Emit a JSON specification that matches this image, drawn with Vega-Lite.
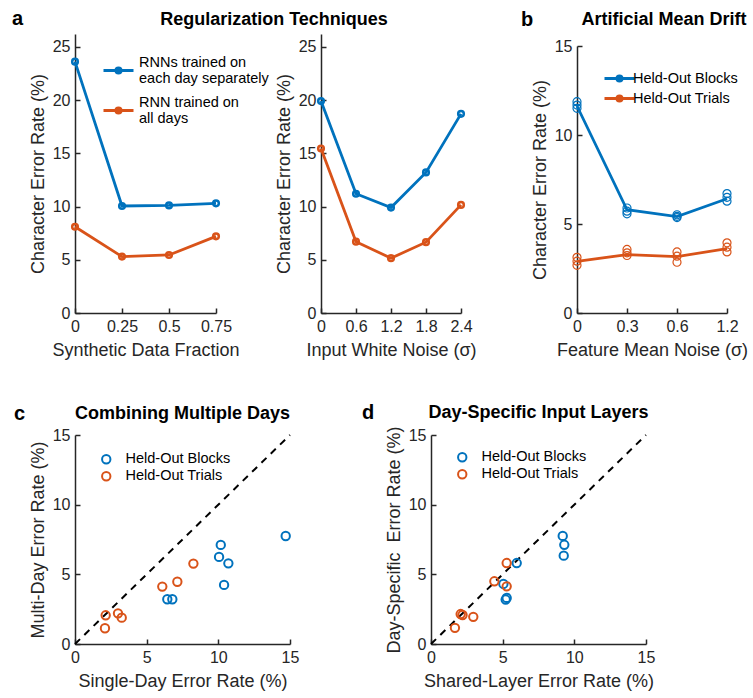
{
  "$schema": "https://vega.github.io/schema/vega-lite/v6.json",
  "padding": {"left": 12, "top": 9, "right": 5, "bottom": 5},
  "config": {
    "font": "Liberation Sans",
    "view": {"stroke": null},
    "axis": {
      "grid": false,
      "domainColor": "#262626", "domainWidth": 1.5,
      "tickColor": "#262626", "tickWidth": 1.5, "tickSize": -5,
      "labelPadding": 10, "labelFontSize": 16, "labelColor": "#262626", "labelFlush": false,
      "labelFont": "Liberation Sans", "titleFont": "Liberation Sans",
      "titleFontSize": 18, "titleFontWeight": "normal", "titleColor": "#262626", "titlePadding": 5
    },
    "axisX": {"titlePadding": 7},
    "title": {"fontSize": 18, "fontWeight": "bold", "color": "#000000", "frame": "group", "offset": 5, "font": "Liberation Sans"},
    "legend": {"labelFontSize": 14.5, "labelColor": "#000000", "padding": 0, "labelFont": "Liberation Sans"}
  },
  "datasets": {
    "a1": [
      {"frac": 0, "cer": 23.6, "model": "RNNs trained on each day separately"},
      {"frac": 0.25, "cer": 10.05, "model": "RNNs trained on each day separately"},
      {"frac": 0.5, "cer": 10.1, "model": "RNNs trained on each day separately"},
      {"frac": 0.75, "cer": 10.3, "model": "RNNs trained on each day separately"},
      {"frac": 0, "cer": 8.1, "model": "RNN trained on all days"},
      {"frac": 0.25, "cer": 5.3, "model": "RNN trained on all days"},
      {"frac": 0.5, "cer": 5.45, "model": "RNN trained on all days"},
      {"frac": 0.75, "cer": 7.2, "model": "RNN trained on all days"}
    ],
    "a2": [
      {"noise": 0, "cer": 19.9, "model": "RNNs trained on each day separately"},
      {"noise": 0.6, "cer": 11.2, "model": "RNNs trained on each day separately"},
      {"noise": 1.2, "cer": 9.9, "model": "RNNs trained on each day separately"},
      {"noise": 1.8, "cer": 13.2, "model": "RNNs trained on each day separately"},
      {"noise": 2.4, "cer": 18.7, "model": "RNNs trained on each day separately"},
      {"noise": 0, "cer": 15.45, "model": "RNN trained on all days"},
      {"noise": 0.6, "cer": 6.7, "model": "RNN trained on all days"},
      {"noise": 1.2, "cer": 5.15, "model": "RNN trained on all days"},
      {"noise": 1.8, "cer": 6.65, "model": "RNN trained on all days"},
      {"noise": 2.4, "cer": 10.15, "model": "RNN trained on all days"}
    ],
    "b": [
      {"noise": "0", "cer": 11.63, "set": "Held-Out Blocks", "kind": "mean"},
      {"noise": "0.3", "cer": 5.8, "set": "Held-Out Blocks", "kind": "mean"},
      {"noise": "0.6", "cer": 5.42, "set": "Held-Out Blocks", "kind": "mean"},
      {"noise": "1.2", "cer": 6.42, "set": "Held-Out Blocks", "kind": "mean"},
      {"noise": "0", "cer": 2.9, "set": "Held-Out Trials", "kind": "mean"},
      {"noise": "0.3", "cer": 3.28, "set": "Held-Out Trials", "kind": "mean"},
      {"noise": "0.6", "cer": 3.17, "set": "Held-Out Trials", "kind": "mean"},
      {"noise": "1.2", "cer": 3.62, "set": "Held-Out Trials", "kind": "mean"},
      {"noise": "0", "cer": 11.87, "set": "Held-Out Blocks", "kind": "run"},
      {"noise": "0", "cer": 11.68, "set": "Held-Out Blocks", "kind": "run"},
      {"noise": "0", "cer": 11.5, "set": "Held-Out Blocks", "kind": "run"},
      {"noise": "0.3", "cer": 5.9, "set": "Held-Out Blocks", "kind": "run"},
      {"noise": "0.3", "cer": 5.72, "set": "Held-Out Blocks", "kind": "run"},
      {"noise": "0.3", "cer": 5.57, "set": "Held-Out Blocks", "kind": "run"},
      {"noise": "0.6", "cer": 5.52, "set": "Held-Out Blocks", "kind": "run"},
      {"noise": "0.6", "cer": 5.43, "set": "Held-Out Blocks", "kind": "run"},
      {"noise": "0.6", "cer": 5.36, "set": "Held-Out Blocks", "kind": "run"},
      {"noise": "1.2", "cer": 6.71, "set": "Held-Out Blocks", "kind": "run"},
      {"noise": "1.2", "cer": 6.5, "set": "Held-Out Blocks", "kind": "run"},
      {"noise": "1.2", "cer": 6.28, "set": "Held-Out Blocks", "kind": "run"},
      {"noise": "0", "cer": 3.13, "set": "Held-Out Trials", "kind": "run"},
      {"noise": "0", "cer": 2.91, "set": "Held-Out Trials", "kind": "run"},
      {"noise": "0", "cer": 2.68, "set": "Held-Out Trials", "kind": "run"},
      {"noise": "0.3", "cer": 3.57, "set": "Held-Out Trials", "kind": "run"},
      {"noise": "0.3", "cer": 3.38, "set": "Held-Out Trials", "kind": "run"},
      {"noise": "0.3", "cer": 3.23, "set": "Held-Out Trials", "kind": "run"},
      {"noise": "0.6", "cer": 3.43, "set": "Held-Out Trials", "kind": "run"},
      {"noise": "0.6", "cer": 3.19, "set": "Held-Out Trials", "kind": "run"},
      {"noise": "0.6", "cer": 2.85, "set": "Held-Out Trials", "kind": "run"},
      {"noise": "1.2", "cer": 3.94, "set": "Held-Out Trials", "kind": "run"},
      {"noise": "1.2", "cer": 3.7, "set": "Held-Out Trials", "kind": "run"},
      {"noise": "1.2", "cer": 3.43, "set": "Held-Out Trials", "kind": "run"}
    ],
    "c": [
      {"single": 10.17, "multi": 7.11, "set": "Held-Out Blocks"},
      {"single": 10.05, "multi": 6.25, "set": "Held-Out Blocks"},
      {"single": 10.7, "multi": 5.79, "set": "Held-Out Blocks"},
      {"single": 10.4, "multi": 4.24, "set": "Held-Out Blocks"},
      {"single": 6.44, "multi": 3.21, "set": "Held-Out Blocks"},
      {"single": 6.79, "multi": 3.21, "set": "Held-Out Blocks"},
      {"single": 14.7, "multi": 7.75, "set": "Held-Out Blocks"},
      {"single": 8.26, "multi": 5.77, "set": "Held-Out Trials"},
      {"single": 7.14, "multi": 4.47, "set": "Held-Out Trials"},
      {"single": 6.09, "multi": 4.12, "set": "Held-Out Trials"},
      {"single": 2.14, "multi": 2.06, "set": "Held-Out Trials"},
      {"single": 3.0, "multi": 2.2, "set": "Held-Out Trials"},
      {"single": 3.26, "multi": 1.89, "set": "Held-Out Trials"},
      {"single": 2.09, "multi": 1.13, "set": "Held-Out Trials"}
    ],
    "d": [
      {"shared": 9.19, "specific": 7.76, "set": "Held-Out Blocks"},
      {"shared": 9.3, "specific": 7.12, "set": "Held-Out Blocks"},
      {"shared": 9.26, "specific": 6.34, "set": "Held-Out Blocks"},
      {"shared": 5.98, "specific": 5.81, "set": "Held-Out Blocks"},
      {"shared": 5.05, "specific": 4.31, "set": "Held-Out Blocks"},
      {"shared": 5.28, "specific": 3.31, "set": "Held-Out Blocks"},
      {"shared": 5.21, "specific": 3.19, "set": "Held-Out Blocks"},
      {"shared": 5.28, "specific": 5.81, "set": "Held-Out Trials"},
      {"shared": 4.42, "specific": 4.5, "set": "Held-Out Trials"},
      {"shared": 5.28, "specific": 4.14, "set": "Held-Out Trials"},
      {"shared": 2.07, "specific": 2.15, "set": "Held-Out Trials"},
      {"shared": 2.2, "specific": 2.08, "set": "Held-Out Trials"},
      {"shared": 2.95, "specific": 1.95, "set": "Held-Out Trials"},
      {"shared": 1.67, "specific": 1.16, "set": "Held-Out Trials"}
    ],
    "diag": [{"v": 0}, {"v": 15}]
  },
  "bounds": "flush",
  "spacing": 401,
  "resolve": {"scale": {"color": "independent"}},
  "vconcat": [
    {
      "bounds": "flush",
      "spacing": 502,
      "resolve": {"scale": {"color": "independent"}},
      "hconcat": [
        {
          "bounds": "flush",
          "spacing": 105,
          "resolve": {"scale": {"color": "independent"}},
          "hconcat": [
            {
              "width": 141, "height": 279,
              "title": {"text": "a", "anchor": "start", "align": "left", "dx": -63, "fontSize": 20},
              "data": {"name": "a1"},
              "encoding": {
                "x": {"field": "frac", "type": "quantitative", "scale": {"domain": [0, 0.75], "nice": false},
                      "axis": {"values": [0, 0.25, 0.5, 0.75], "labelExpr": "'' + datum.value", "title": "Synthetic Data Fraction"}},
                "y": {"field": "cer", "type": "quantitative", "scale": {"domain": [0, 26.2], "nice": false},
                      "axis": {"values": [0, 5, 10, 15, 20, 25], "title": "Character Error Rate (%)"}},
                "color": {"field": "model", "type": "nominal",
                          "scale": {"domain": ["RNNs trained on each day separately", "RNN trained on all days"], "range": ["#0072BD", "#D95319"]},
                          "legend": {"orient": "none", "legendX": 27, "legendY": 20, "title": null,
                                     "symbolType": "M-1,0H1M0.17,0A0.17,0.17,0,1,1,-0.17,0A0.17,0.17,0,1,1,0.17,0",
                                     "symbolSize": 900, "symbolStrokeWidth": 3, "symbolFillColor": "transparent",
                                     "labelFontSize": 14.5, "labelOffset": 4, "rowPadding": 8, "labelBaseline": "line-bottom",
                                     "labelExpr": "datum.label == 'RNNs trained on each day separately' ? ['RNNs trained on', 'each day separately'] : ['RNN trained on', 'all days']"}}
              },
              "layer": [
                {"mark": {"type": "line", "strokeWidth": 2.8}},
                {"mark": {"type": "point", "filled": false, "strokeWidth": 2.5, "size": 32, "opacity": 1}}
              ]
            },
            {
              "width": 140, "height": 279,
              "title": {"text": "Regularization Techniques", "anchor": "middle", "dx": -117},
              "data": {"name": "a2"},
              "encoding": {
                "x": {"field": "noise", "type": "quantitative", "scale": {"domain": [0, 2.4], "nice": false},
                      "axis": {"values": [0, 0.6, 1.2, 1.8, 2.4], "labelExpr": "'' + datum.value", "title": "Input White Noise (σ)"}},
                "y": {"field": "cer", "type": "quantitative", "scale": {"domain": [0, 26.2], "nice": false},
                      "axis": {"values": [0, 5, 10, 15, 20, 25], "title": "Character Error Rate (%)"}},
                "color": {"field": "model", "type": "nominal",
                          "scale": {"domain": ["RNNs trained on each day separately", "RNN trained on all days"], "range": ["#0072BD", "#D95319"]},
                          "legend": null}
              },
              "layer": [
                {"mark": {"type": "line", "strokeWidth": 2.8}},
                {"mark": {"type": "point", "filled": false, "strokeWidth": 2.5, "size": 32, "opacity": 1}}
              ]
            }
          ]
        },
        {
          "bounds": "flush",
          "title": {"text": "b", "anchor": "start", "align": "left", "dx": -56, "dy": 24, "fontSize": 20},
          "vconcat": [
            {
              "width": 150, "height": 279,
              "title": {"text": "Artificial Mean Drift", "anchor": "middle", "dx": 12},
              "data": {"name": "b"},
              "encoding": {
                "x": {"field": "noise", "type": "ordinal", "sort": ["0", "0.3", "0.6", "1.2"],
                      "scale": {"type": "point", "padding": 0},
                      "axis": {"labelAngle": 0, "title": "Feature Mean Noise (σ)"}},
                "y": {"field": "cer", "type": "quantitative", "scale": {"domain": [0, 15], "nice": false, "range": [279, 12]},
                      "axis": {"values": [0, 5, 10, 15], "title": "Character Error Rate (%)"}},
                "color": {"field": "set", "type": "nominal",
                          "scale": {"domain": ["Held-Out Blocks", "Held-Out Trials"], "range": ["#0072BD", "#D95319"]},
                          "legend": {"orient": "none", "legendX": 31, "legendY": 33, "title": null,
                                     "symbolType": "M-1.5,0H1.5M0.25,0A0.25,0.25,0,1,1,-0.25,0A0.25,0.25,0,1,1,0.25,0",
                                     "symbolSize": 400, "symbolStrokeWidth": 3, "symbolFillColor": "transparent",
                                     "labelFontSize": 14.5, "labelOffset": 2, "rowPadding": -2}}
              },
              "layer": [
                {"transform": [{"filter": "datum.kind == 'mean'"}], "mark": {"type": "line", "strokeWidth": 2.8}},
                {"transform": [{"filter": "datum.kind == 'run'"}], "mark": {"type": "point", "filled": false, "strokeWidth": 1.2, "size": 64, "opacity": 1}}
              ]
            }
          ]
        }
      ]
    },
    {
      "bounds": "flush",
      "spacing": 356,
      "resolve": {"scale": {"color": "independent"}},
      "hconcat": [
        {
          "bounds": "flush",
          "title": {"text": "c", "anchor": "start", "align": "left", "dx": -61, "dy": 24, "fontSize": 20},
          "vconcat": [
            {
              "width": 215, "height": 209,
              "title": {"text": "Combining Multiple Days", "anchor": "middle", "dx": 0, "offset": 4},
              "layer": [
                {
                  "data": {"name": "diag"},
                  "mark": {"type": "line", "color": "#000000", "strokeDash": [7, 6], "strokeWidth": 2},
                  "encoding": {
                    "x": {"field": "v", "type": "quantitative", "scale": {"domain": [0, 15], "nice": false},
                          "axis": {"values": [0, 5, 10, 15], "title": "Single-Day Error Rate (%)"}},
                    "y": {"field": "v", "type": "quantitative", "scale": {"domain": [0, 15], "nice": false},
                          "axis": {"values": [0, 5, 10, 15], "title": "Multi-Day Error Rate (%)"}}
                  }
                },
                {
                  "data": {"name": "c"},
                  "mark": {"type": "point", "filled": false, "strokeWidth": 2, "size": 70, "opacity": 1},
                  "encoding": {
                    "x": {"field": "single", "type": "quantitative", "title": "Single-Day Error Rate (%)"},
                    "y": {"field": "multi", "type": "quantitative", "title": "Multi-Day Error Rate (%)"},
                    "color": {"field": "set", "type": "nominal",
                              "scale": {"domain": ["Held-Out Blocks", "Held-Out Trials"], "range": ["#0072BD", "#D95319"]},
                              "legend": {"orient": "none", "legendX": 24, "legendY": 17, "title": null,
                                         "symbolType": "circle", "symbolSize": 70, "symbolStrokeWidth": 2, "symbolFillColor": "transparent",
                                         "labelFontSize": 14.5, "labelOffset": 12, "rowPadding": 0}}
                  }
                }
              ]
            }
          ]
        },
        {
          "bounds": "flush",
          "title": {"text": "d", "anchor": "start", "align": "left", "dx": -69, "dy": 24, "fontSize": 20},
          "vconcat": [
            {
              "width": 215, "height": 209,
              "title": {"text": "Day-Specific Input Layers", "anchor": "middle", "dx": 0, "offset": 4},
              "layer": [
                {
                  "data": {"name": "diag"},
                  "mark": {"type": "line", "color": "#000000", "strokeDash": [7, 6], "strokeWidth": 2},
                  "encoding": {
                    "x": {"field": "v", "type": "quantitative", "scale": {"domain": [0, 15], "nice": false},
                          "axis": {"values": [0, 5, 10, 15], "title": "Shared-Layer Error Rate (%)"}},
                    "y": {"field": "v", "type": "quantitative", "scale": {"domain": [0, 15], "nice": false},
                          "axis": {"values": [0, 5, 10, 15], "title": "Day-Specific \u00a0Error Rate (%)"}}
                  }
                },
                {
                  "data": {"name": "d"},
                  "mark": {"type": "point", "filled": false, "strokeWidth": 2, "size": 70, "opacity": 1},
                  "encoding": {
                    "x": {"field": "shared", "type": "quantitative", "title": "Shared-Layer Error Rate (%)"},
                    "y": {"field": "specific", "type": "quantitative", "title": "Day-Specific \u00a0Error Rate (%)"},
                    "color": {"field": "set", "type": "nominal",
                              "scale": {"domain": ["Held-Out Blocks", "Held-Out Trials"], "range": ["#0072BD", "#D95319"]},
                              "legend": {"orient": "none", "legendX": 24, "legendY": 15, "title": null,
                                         "symbolType": "circle", "symbolSize": 70, "symbolStrokeWidth": 2, "symbolFillColor": "transparent",
                                         "labelFontSize": 14.5, "labelOffset": 12, "rowPadding": 0}}
                  }
                }
              ]
            }
          ]
        }
      ]
    }
  ]
}
